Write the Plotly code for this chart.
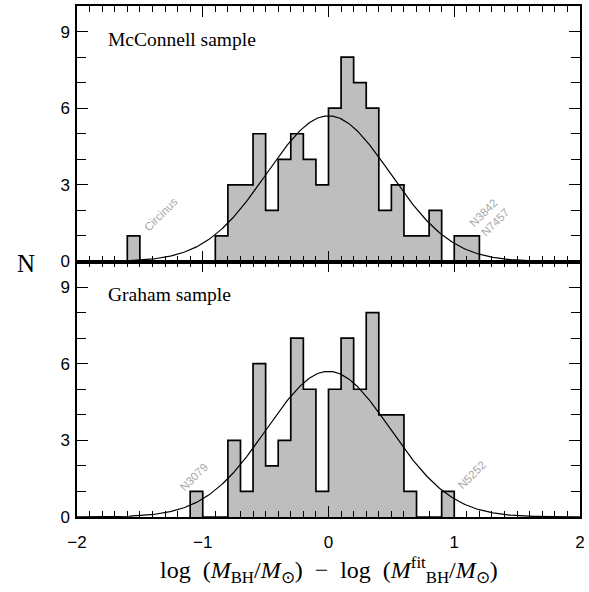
import numpy as np
import plotly.graph_objects as go
from plotly.subplots import make_subplots

# Residual histograms (bin width 0.1 dex), counts listed from the first edge upward
BIN_WIDTH = 0.1
mcconnell_first_edge = -1.6
mcconnell_counts = [1, 0, 0, 0, 0, 0, 0, 1, 3, 3, 5, 2, 4, 5, 4, 3,
                    6, 8, 7, 6, 2, 3, 1, 1, 2, 0, 1, 1]
graham_first_edge = -1.1
graham_counts = [1, 0, 0, 3, 1, 6, 2, 3, 7, 5, 1, 5, 7, 5, 8, 4, 4, 1, 0, 0, 1]

# Gaussian fit overplotted on both panels
gauss_amplitude = 5.7
gauss_mean = 0.0
gauss_sigma = 0.49

x_tick_values = [-2, -1, 0, 1, 2]
y_tick_values = [0, 3, 6, 9]

panel_labels = ["McConnell sample", "Graham sample"]

# Outlier names: (text, x, y, panel row)
outlier_labels = [
    ("Circinus", -1.33, 1.85, 1),
    ("N3842<br> N7457", 1.27, 1.70, 1),
    ("N3079", -1.07, 1.56, 2),
    ("N5252", 1.14, 1.64, 2),
]

FILL = "#bebebe"
SERIF = "Liberation Serif"
SANS = "Liberation Sans"

fig = make_subplots(rows=2, cols=1, shared_xaxes=True, vertical_spacing=0)


def add_histogram(first_edge, counts, row):
    counts = np.asarray(counts, dtype=float)
    n = len(counts)
    left = first_edge + BIN_WIDTH * np.arange(n)
    centers = left + BIN_WIDTH / 2
    fig.add_trace(go.Bar(x=centers, y=counts, width=BIN_WIDTH,
                         marker=dict(color=FILL, line=dict(width=0)),
                         showlegend=False, hoverinfo="skip"), row=row, col=1)
    # step outline around the filled bins
    right_end = first_edge + BIN_WIDTH * n
    xs = np.concatenate([[first_edge], left, [right_end]])
    ys = np.concatenate([[0.0], counts, [0.0]])
    fig.add_trace(go.Scatter(x=xs, y=ys, mode="lines",
                             line=dict(shape="hv", color="black", width=1.7),
                             showlegend=False, hoverinfo="skip"), row=row, col=1)


def add_gaussian(row):
    xg = np.linspace(-2, 2, 401)
    yg = gauss_amplitude * np.exp(-0.5 * ((xg - gauss_mean) / gauss_sigma) ** 2)
    fig.add_trace(go.Scatter(x=xg, y=yg, mode="lines",
                             line=dict(color="black", width=1.2),
                             showlegend=False, hoverinfo="skip"), row=row, col=1)


add_histogram(mcconnell_first_edge, mcconnell_counts, 1)
add_gaussian(1)
add_histogram(graham_first_edge, graham_counts, 2)
add_gaussian(2)

axis_common = dict(showline=True, linecolor="black", linewidth=1.5, mirror="ticks",
                   ticks="inside", tickcolor="black", tickwidth=1.2,
                   showgrid=False, zeroline=False)

for row in (1, 2):
    fig.update_xaxes(range=[-2, 2], tickmode="array", tickvals=x_tick_values,
                     ticklen=11, ticklabelstandoff=9,
                     minor=dict(dtick=BIN_WIDTH, tick0=0, ticks="inside", ticklen=6,
                                tickcolor="black", tickwidth=1.1, showgrid=False),
                     showticklabels=(row == 2),
                     tickfont=dict(family=SANS, size=17, color="black"),
                     row=row, col=1, **axis_common)
    fig.update_yaxes(range=[0, 10], tickmode="array", tickvals=y_tick_values,
                     ticklen=11, ticklabelstandoff=2,
                     minor=dict(dtick=1, tick0=0, ticks="inside", ticklen=9,
                                tickcolor="black", tickwidth=1.1, showgrid=False),
                     tickfont=dict(family=SANS, size=17, color="black"),
                     row=row, col=1, **axis_common)

# panel titles
for row, text in zip((1, 2), panel_labels):
    ref = "" if row == 1 else "2"
    fig.add_annotation(x=-1.77, y=8.7, xref="x" + ref, yref="y" + ref,
                       text=text, showarrow=False, xanchor="left", yanchor="middle",
                       font=dict(family=SERIF, size=19.5, color="black"))

# names of the outlying galaxies
for text, x, y, row in outlier_labels:
    ref = "" if row == 1 else "2"
    fig.add_annotation(x=x, y=y, xref="x" + ref, yref="y" + ref, text=text,
                       showarrow=False, textangle=-45,
                       font=dict(family=SANS, size=11.5, color="#a8a8a8"))

# axis titles
fig.add_annotation(x=-0.124, y=0.497, xref="paper", yref="paper", text="N",
                   showarrow=False, font=dict(family=SERIF, size=25, color="black"))
x_title = ("log\u00a0\u00a0(<i>M</i><sub>BH</sub>/<i>M</i><sub>\u2299</sub>)"
           "\u00a0\u00a0\u2212\u00a0\u00a0log\u00a0\u00a0"
           "(<i>M</i><sup>fit</sup><sub>BH</sub>/<i>M</i><sub>\u2299</sub>)")
fig.add_annotation(x=0.5, y=-0.104, xref="paper", yref="paper", text=x_title,
                   showarrow=False, yanchor="middle",
                   font=dict(family=SERIF, size=24, color="black"))

fig.update_layout(width=589, height=592,
                  margin=dict(l=77, r=5, t=4, b=75),
                  plot_bgcolor="white", paper_bgcolor="white",
                  bargap=0, barmode="overlay", showlegend=False)

fig.write_html("out.html")
